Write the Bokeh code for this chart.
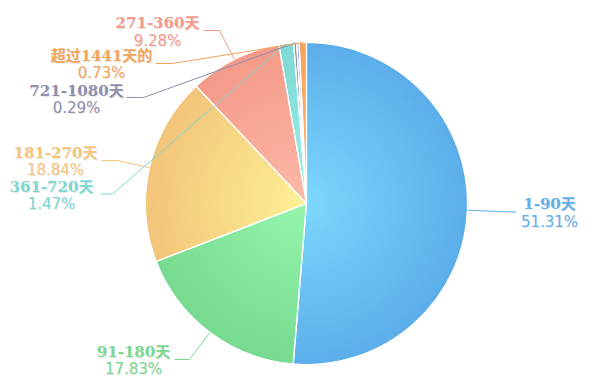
import math
from bokeh.plotting import figure
from bokeh.models import Range1d, ColumnDataSource
from bokeh.core.properties import value
from bokeh.embed import file_html
from bokeh.resources import INLINE

# ---------------- data ----------------
categories = ["1-90天", "91-180天", "181-270天", "271-360天", "361-720天",
              "721-1080天", "1081-1440天", "超过1441天的"]
values = [51.31, 17.83, 18.84, 9.28, 1.47, 0.29, 0.25, 0.73]
pct_labels = ["51.31%", "17.83%", "18.84%", "9.28%", "1.47%", "0.29%", "0.25%", "0.73%"]
show_label = [True, True, True, True, True, True, False, True]

# ---------------- styles ----------------
center_colors = ["#7cd7fc", "#96f6ad", "#fdf196", "#fdb9a9", "#9cf1ec", "#9c9cbc", "#b8d6f6", "#f9bb7c"]
edge_colors = ["#5caeea", "#77da8f", "#f3c57a", "#f59a89", "#7dd9d2", "#8d8dae", "#a3c3ee", "#f2a45c"]
text_colors = ["#62b0ea", "#7bd98f", "#f5c57b", "#f59a8a", "#7dd8d0", "#8f8fae", "#a3c3ee", "#f3a55d"]

# label layout in page pixels (x center, y of line 1, y of line 2, elbow x, elbow y, end x, end y)
label_layout = {
    0: (549, 203, 221, 496, 211, 516, 211.5),
    1: (133, 351, 368, 189, 359, 174, 359),
    2: (55, 152, 169, 117, 160, 101, 160),
    3: (157, 22, 40, 219, 30, 203, 30),
    4: (51, 186, 203, 112, 193.5, 100, 193.5),
    5: (76, 90, 107, 143, 97, 126, 97),
    7: (101, 55, 72, 172, 63, 155, 63),
}

W, H = 597, 391
def Y(py):
    return H - py

cx, cy, R = 306, Y(203), 161
N_RINGS = 60

def hex2rgb(h):
    h = h.lstrip("#")
    return tuple(int(h[i:i + 2], 16) for i in (0, 2, 4))

def lerp(c1, c2, t):
    a, b = hex2rgb(c1), hex2rgb(c2)
    return "#%02x%02x%02x" % tuple(int(round(a[i] + (b[i] - a[i]) * t)) for i in range(3))

total = sum(values)
starts, ends, mids = [], [], []
cum = 0.0
for v in values:
    s = 90 - 360 * cum / total
    cum += v
    e = 90 - 360 * cum / total
    starts.append(math.radians(s))
    ends.append(math.radians(e))
    mids.append(math.radians((s + e) / 2))

p = figure(width=581, height=383, x_range=Range1d(0, 581), y_range=Range1d(8, 391),
           output_backend="svg", toolbar_location=None, min_border=0)
p.axis.visible = False
p.xgrid.visible = False
p.ygrid.visible = False
p.outline_line_color = None
p.background_fill_color = "white"

# radial gradient: stacked wedges from outer (edge colour) to inner (centre colour)
rx, ry, rr, rs, re, rc = [], [], [], [], [], []
for k in range(N_RINGS - 1, -1, -1):
    for i in range(len(values)):
        rx.append(cx); ry.append(cy)
        rr.append(R * (k + 1) / N_RINGS)
        rs.append(starts[i]); re.append(ends[i])
        rc.append(lerp(center_colors[i], edge_colors[i], (k + 0.5) / N_RINGS))
ring_src = ColumnDataSource(dict(x=rx, y=ry, r=rr, s=rs, e=re, c=rc))
p.wedge(x="x", y="y", radius="r", start_angle="s", end_angle="e", direction="clock",
        fill_color="c", line_color=None, source=ring_src)

# white borders
p.wedge(x=cx, y=cy, radius=R, start_angle=starts, end_angle=ends, direction="clock",
        fill_alpha=0, line_color="white", line_width=1.2)

# leader lines and labels
lxs, lys, lcs = [], [], []
t1x, t1y, t1t, t1c = [], [], [], []
t2x, t2y, t2t, t2c = [], [], [], []
for i in range(len(values)):
    if not show_label[i]:
        continue
    lx, ly1, ly2, ex, ey, sx, sy = label_layout[i]
    px = cx + R * math.cos(mids[i])
    py = cy + R * math.sin(mids[i])
    lxs.append([px, ex, sx]); lys.append([py, Y(ey), Y(sy)]); lcs.append(edge_colors[i])
    t1x.append(lx); t1y.append(Y(ly1)); t1t.append(categories[i]); t1c.append(text_colors[i])
    t2x.append(lx); t2y.append(Y(ly2)); t2t.append(pct_labels[i]); t2c.append(text_colors[i])

p.multi_line(xs=lxs, ys=lys, line_color=lcs, line_width=1)

font1 = value("DejaVu Serif, Noto Sans CJK SC")
font2 = value("DejaVu Sans, Noto Sans CJK SC")
# soft shadow
p.text(x=[x + 1 for x in t1x], y=[y - 1 for y in t1y], text=t1t, text_align="center",
       text_baseline="middle", text_font=font1, text_font_style="bold",
       text_font_size="15px", text_color="#000000", text_alpha=0.10)
p.text(x=[x + 1 for x in t2x], y=[y - 1 for y in t2y], text=t2t, text_align="center",
       text_baseline="middle", text_font=font2,
       text_font_size="15px", text_color="#000000", text_alpha=0.10)
p.text(x=t1x, y=t1y, text=t1t, text_align="center", text_baseline="middle",
       text_font=font1, text_font_style="bold", text_font_size="15px", text_color=t1c)
p.text(x=t2x, y=t2y, text=t2t, text_align="center", text_baseline="middle",
       text_font=font2, text_font_size="15px", text_color=t2c)

open("out.html", "w").write(file_html(p, INLINE))
